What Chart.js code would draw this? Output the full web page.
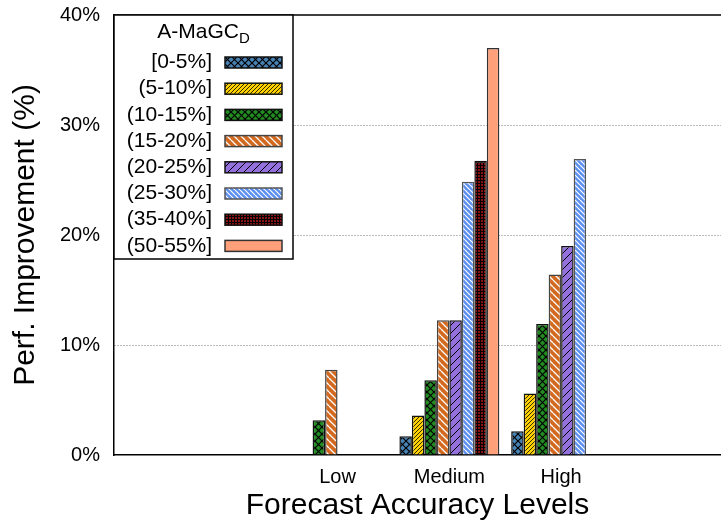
<!DOCTYPE html>
<html>
<head>
<meta charset="utf-8">
<script src="https://cdn.jsdelivr.net/npm/chart.js@4.4.1/dist/chart.umd.min.js"></script>
<style>
  html, body { margin: 0; padding: 0; background: #fff; }
  #wrap { width: 721px; height: 525px; }
</style>
</head>
<body>
<div id="wrap"><canvas id="chart"></canvas></div>
<script>
// categories on the x axis
const categories = ["Low", "Medium", "High"];

// legend labels (A-MaGC_D ranges)
const seriesLabels = [
  "[0-5%]", "(5-10%]", "(10-15%]", "(15-20%]",
  "(20-25%]", "(25-30%]", "(35-40%]", "(50-55%]"
];

// improvement values per category (Low, Medium, High)
const r0to5   = [null, 1.7, 2.15];
const r5to10  = [null, 3.6, 5.6];
const r10to15 = [3.15, 6.8, 11.9];
const r15to20 = [7.75, 12.25, 16.4];
const r20to25 = [null, 12.25, 19.0];
const r25to30 = [null, 24.85, 26.9];
const r35to40 = [null, 26.75, null];
const r50to55 = [null, 37.0, null];

const yTicks = [0, 10, 20, 30, 40];

const FONT = "'Liberation Sans', Arial, Helvetica, sans-serif";

// small tiles used as bar fills
function tile(size, bg, draw) {
  const c = document.createElement("canvas");
  c.width = size; c.height = size;
  const g = c.getContext("2d");
  g.fillStyle = bg;
  g.fillRect(0, 0, size, size);
  draw(g, size);
  return c.getContext("2d").createPattern(c, "repeat");
}

function lines(dir, fg, lw) {
  return (g, s) => {
    g.strokeStyle = fg;
    g.lineWidth = lw;
    g.beginPath();
    for (let o = -s; o <= s; o += s) {
      if (dir === "/") { g.moveTo(o, s); g.lineTo(o + s, 0); }
      else { g.moveTo(o, 0); g.lineTo(o + s, s); }
    }
    g.stroke();
  };
}

function cross(fg, lw) {
  return (g, s) => { lines("/", fg, lw)(g, s); lines("\\", fg, lw)(g, s); };
}

function dots(fg) {
  return (g, s) => { g.fillStyle = fg; g.fillRect(1, 1, s - 1, s - 1); };
}

const fills = [
  tile(7, "#4682b4", cross("#000", 1.2)),
  tile(4, "#ffd000", lines("/", "#000", 0.8)),
  tile(7, "#228b22", cross("#000", 1.2)),
  tile(7, "#d2691e", lines("\\", "#fff", 1.3)),
  tile(8, "#9370db", lines("/", "#000", 1)),
  tile(5, "#5b8ff0", lines("\\", "#fff", 1.2)),
  tile(3, "#000", dots("#8a1212")),
  "#ffa07a"
];
const borders = ["#111", "#111", "#111", "#444", "#111", "#555", "#111", "#333"];

const seriesValues = [r0to5, r5to10, r10to15, r15to20, r20to25, r25to30, r35to40, r50to55];

const datasets = seriesLabels.map((label, k) => ({
  label,
  data: categories.map((c, i) => ({ x: i, y: seriesValues[k][i] })),
  backgroundColor: fills[k],
  borderColor: borders[k],
  borderWidth: 1.5,
  categoryPercentage: 0.894,
  barPercentage: 1.0
}));

// legend box inside the plot, plus the top frame line
const insideLegend = {
  id: "insideLegend",
  afterDraw(chart) {
    const ctx = chart.ctx;
    const a = chart.chartArea;
    ctx.save();

    ctx.strokeStyle = "#000";
    ctx.lineWidth = 1.5;
    ctx.beginPath();
    ctx.moveTo(a.left, a.top);
    ctx.lineTo(a.right, a.top);
    ctx.stroke();

    const x0 = a.left, y0 = a.top, w = 179, h = 244;
    ctx.fillStyle = "#fff";
    ctx.fillRect(x0, y0, w, h);
    ctx.strokeRect(x0, y0, w, h);

    // title A-MaGC with subscript D
    ctx.fillStyle = "#000";
    ctx.textBaseline = "alphabetic";
    ctx.font = "21px " + FONT;
    const main = "A-MaGC";
    const mw = ctx.measureText(main).width;
    ctx.font = "15px " + FONT;
    const sw = ctx.measureText("D").width;
    const tx = x0 + w / 2 - (mw + sw) / 2;
    ctx.font = "21px " + FONT;
    ctx.textAlign = "left";
    ctx.fillText(main, tx, y0 + 23);
    ctx.font = "15px " + FONT;
    ctx.fillText("D", tx + mw, y0 + 28);

    ctx.font = "21px " + FONT;
    ctx.textBaseline = "middle";
    ctx.textAlign = "right";
    chart.data.datasets.forEach((ds, k) => {
      const cy = y0 + 47.5 + k * 26.2;
      ctx.fillStyle = "#000";
      ctx.fillText(ds.label, x0 + 98, cy);
      ctx.fillStyle = ds.backgroundColor;
      ctx.fillRect(x0 + 111, cy - 5.5, 57, 11);
      ctx.strokeStyle = ds.borderColor;
      ctx.lineWidth = 1.5;
      ctx.strokeRect(x0 + 111, cy - 5.5, 57, 11);
    });
    ctx.restore();
  }
};

new Chart(document.getElementById("chart"), {
  type: "bar",
  data: { datasets },
  plugins: [insideLegend],
  options: {
    responsive: true,
    maintainAspectRatio: false,
    animation: false,
    layout: { padding: { top: 15, right: 0, bottom: 0, left: 0 } },
    plugins: {
      legend: { display: false },
      tooltip: { enabled: false }
    },
    scales: {
      x: {
        type: "linear",
        offset: false,
        min: -2,
        max: 3.43,
        afterBuildTicks: scale => {
          scale.ticks = categories.map((c, i) => ({ value: i }));
        },
        afterFit: scale => {
          scale.height = 70;
          scale.paddingLeft = 0;
          scale.paddingRight = 0;
        },
        ticks: {
          autoSkip: false,
          maxRotation: 0,
          padding: 10,
          color: "#000",
          font: { family: FONT, size: 20 },
          callback: v => categories[v] ?? ""
        },
        grid: { display: false, drawTicks: false },
        border: { display: true, color: "#000", width: 1.5 },
        title: {
          display: true,
          text: "Forecast Accuracy Levels",
          color: "#000",
          font: { family: FONT, size: 30 },
          padding: { top: 0, bottom: 1 }
        }
      },
      y: {
        min: 0,
        max: 40,
        afterBuildTicks: scale => {
          scale.ticks = yTicks.map(v => ({ value: v }));
        },
        afterFit: scale => {
          scale.width = 114;
          scale.paddingTop = 0;
          scale.paddingBottom = 0;
        },
        ticks: {
          padding: 14,
          color: "#000",
          font: { family: FONT, size: 20 },
          callback: v => v + "%"
        },
        grid: {
          drawTicks: false,
          lineWidth: 1,
          color: c => (c.tick && c.tick.value > 0 && c.tick.value < 40) ? "#777" : "rgba(0,0,0,0)"
        },
        border: { display: true, color: "#000", width: 1.5, dash: [1, 2] },
        title: {
          display: true,
          text: "Perf. Improvement (%)",
          color: "#000",
          font: { family: FONT, size: 30 },
          padding: { top: 8, bottom: 0 }
        }
      }
    }
  }
});
</script>
</body>
</html>
